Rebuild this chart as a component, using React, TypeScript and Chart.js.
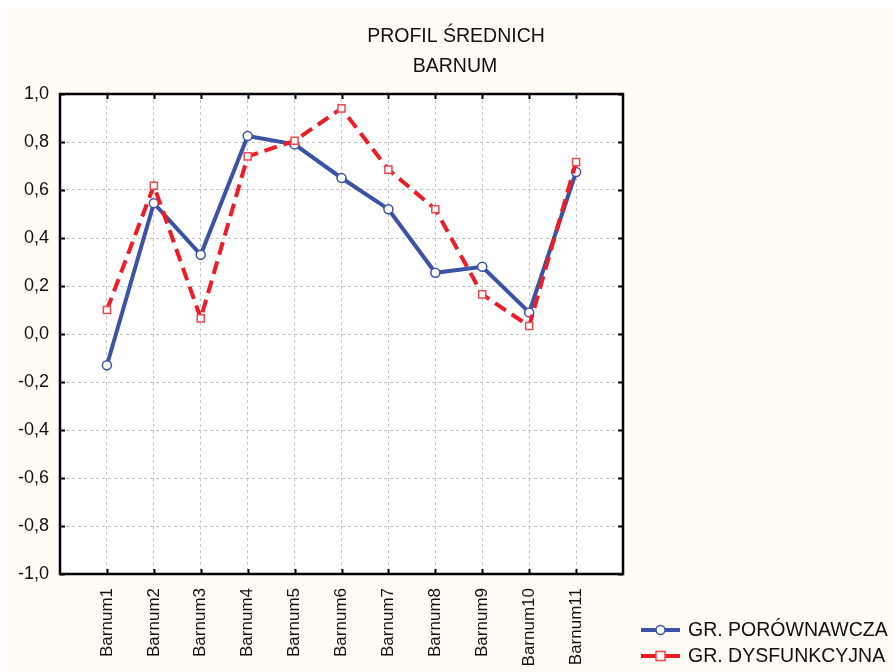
import React, { useEffect, useRef } from "react";
import { Chart, registerables } from "chart.js";

Chart.register(...registerables);

const titleLines = ["PROFIL ŚREDNICH", "BARNUM"];
const categories = ["Barnum1", "Barnum2", "Barnum3", "Barnum4", "Barnum5", "Barnum6", "Barnum7", "Barnum8", "Barnum9", "Barnum10", "Barnum11"];
const seriesNames = ["GR. PORÓWNAWCZA", "GR. DYSFUNKCYJNA"];
const porownawcza = [-0.13, 0.545, 0.33, 0.825, 0.79, 0.65, 0.52, 0.255, 0.28, 0.09, 0.675];
const dysfunkcyjna = [0.1, 0.618, 0.065, 0.74, 0.805, 0.94, 0.685, 0.52, 0.165, 0.033, 0.716];
const yTicks = [-1, -0.8, -0.6, -0.4, -0.2, 0, 0.2, 0.4, 0.6, 0.8, 1];

const BLUE = "#3a53a4";
const RED = "#ee1c25";
const FONT = "'Liberation Sans', Arial, sans-serif";

const framePlugin = {
  id: "frame",
  afterDatasetsDraw(chart: any) {
    const { ctx, chartArea: a, scales } = chart;
    ctx.save();
    ctx.strokeStyle = "#000";
    ctx.lineWidth = 2;
    const tl = 5;
    ctx.beginPath();
    for (let i = 1; i <= categories.length; i++) {
      const x = Math.round(scales.x.getPixelForValue(i)) + 0.5;
      ctx.moveTo(x, a.top); ctx.lineTo(x, a.top + tl);
      ctx.moveTo(x, a.bottom); ctx.lineTo(x, a.bottom - tl);
    }
    for (const v of yTicks) {
      const y = Math.round(scales.y.getPixelForValue(v)) + 0.5;
      ctx.moveTo(a.left, y); ctx.lineTo(a.left + tl, y);
      ctx.moveTo(a.right, y); ctx.lineTo(a.right - tl, y);
    }
    ctx.stroke();
    ctx.lineWidth = 2.5;
    ctx.strokeRect(a.left, a.top, a.right - a.left, a.bottom - a.top);
    ctx.restore();
  },
};

const decorPlugin = {
  id: "decor",
  beforeDraw(chart: any) {
    const { ctx, width, height } = chart;
    ctx.save();
    ctx.fillStyle = "#fffcf5";
    ctx.fillRect(0, 0, width, height);
    const a = chart.chartArea;
    ctx.fillStyle = "#ffffff";
    ctx.fillRect(a.left, a.top, a.right - a.left, a.bottom - a.top);
    ctx.restore();
  },
  afterDraw(chart: any) {
    const { ctx } = chart;
    ctx.save();
    ctx.fillStyle = "#111";
    ctx.font = `19.5px ${FONT}`;
    ctx.textAlign = "center";
    ctx.textBaseline = "middle";
    ctx.fillText(titleLines[0], 450, 29);
    ctx.fillText(titleLines[1], 449, 59);
    const ds = chart.data.datasets;
    [0, 1].forEach((i, k) => {
      const d = ds[i];
      const y = 622 + k * 26;
      const x0 = 635, x1 = 674;
      ctx.strokeStyle = d.borderColor;
      ctx.lineWidth = 4;
      ctx.setLineDash([]);
      ctx.beginPath();
      ctx.moveTo(x0, y); ctx.lineTo(x1, y);
      ctx.stroke();
      ctx.lineWidth = 1.5;
      ctx.fillStyle = "#fff";
      const cx = (x0 + x1) / 2;
      if (d.pointStyle === "rect") {
        ctx.fillRect(cx - 4.5, y - 4.5, 9, 9);
        ctx.strokeStyle = d.pointBorderColor;
        ctx.strokeRect(cx - 4.5, y - 4.5, 9, 9);
      } else {
        ctx.beginPath();
        ctx.arc(cx, y, 4.5, 0, Math.PI * 2);
        ctx.fill();
        ctx.strokeStyle = d.pointBorderColor;
        ctx.stroke();
      }
      ctx.fillStyle = "#111";
      ctx.textAlign = "left";
      ctx.font = `19.5px ${FONT}`;
      ctx.fillText(d.label, 682, y + 1);
    });
    ctx.restore();
  },
};

export default function App() {
  const ref = useRef<HTMLCanvasElement>(null);
  useEffect(() => {
    document.body.style.margin = "0";
    const chart = new Chart(ref.current!, {
      type: "line",
      data: {
        datasets: [
          {
            label: seriesNames[0],
            data: porownawcza.map((v, i) => ({ x: i + 1, y: v })),
            borderColor: BLUE,
            borderWidth: 4,
            pointStyle: "circle",
            pointRadius: 4.5,
            pointBackgroundColor: "#fff",
            pointBorderColor: BLUE,
            pointBorderWidth: 1.5,
            order: 1,
          },
          {
            label: seriesNames[1],
            data: dysfunkcyjna.map((v, i) => ({ x: i + 1, y: v })),
            borderColor: RED,
            borderWidth: 4,
            borderDash: [13, 7],
            pointStyle: "rect",
            pointRadius: 5,
            pointBackgroundColor: "#fff",
            pointBorderColor: "#f04a50",
            pointBorderWidth: 1.5,
            order: 0,
          },
        ],
      },
      options: {
        animation: false,
        responsive: false,
        layout: { padding: { left: 0, top: 86, right: 271, bottom: 0 } },
        plugins: { legend: { display: false }, tooltip: { enabled: false }, title: { display: false } },
        scales: {
          x: {
            type: "linear",
            min: 0,
            max: categories.length + 1,
            afterFit: (s: any) => { s.height = 98; },
            afterBuildTicks: (s: any) => {
              s.ticks = categories.map((_, i) => ({ value: i + 1 }));
            },
            grid: { color: "#c4c4c4", lineWidth: 1, drawTicks: false },
            border: { display: false, dash: [3, 3] },
            ticks: {
              autoSkip: false,
              maxRotation: 90,
              minRotation: 90,
              padding: 14,
              color: "#111",
              font: { family: FONT, size: 17 },
              callback: (v: any) => categories[Number(v) - 1] ?? "",
            },
          },
          y: {
            min: -1,
            max: 1,
            afterFit: (s: any) => { s.width = 54; },
            afterBuildTicks: (s: any) => {
              s.ticks = yTicks.map((v) => ({ value: v }));
            },
            grid: { color: "#c4c4c4", lineWidth: 1, drawTicks: false },
            border: { display: false, dash: [3, 3] },
            ticks: {
              padding: 11,
              color: "#111",
              font: { family: FONT, size: 18 },
              callback: (v: any) => Number(v).toFixed(1).replace(".", ","),
            },
          },
        },
      },
      plugins: [decorPlugin, framePlugin],
    });
    return () => chart.destroy();
  }, []);
  return (
    <div style={{ paddingTop: 8, paddingLeft: 6, background: "#fff" }}>
      <canvas ref={ref} width={888} height={664} style={{ display: "block", width: 888, height: 664 }} />
    </div>
  );
}
